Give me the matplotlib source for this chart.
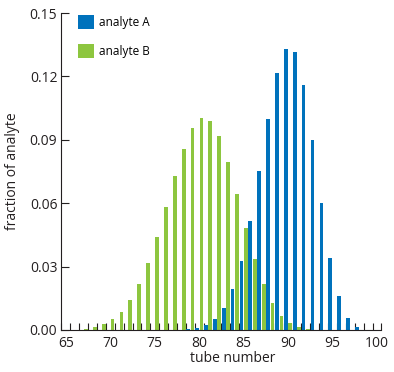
import matplotlib
matplotlib.use("Agg")
import matplotlib.pyplot as plt
from matplotlib.ticker import FixedLocator
from matplotlib.patches import Patch

plt.rcParams['font.family'] = ['Open Sans', 'DejaVu Sans']

# tube numbers and fraction of analyte
tubes_A = [79, 80, 81, 82, 83, 84, 85, 86, 87, 88, 89, 90, 91, 92, 93, 94, 95, 96, 97, 98]
frac_A = [0.0003, 0.0009, 0.0023, 0.0052, 0.0105, 0.0195, 0.0328, 0.0516, 0.0750, 0.0999,
          0.1217, 0.1330, 0.1314, 0.1160, 0.0899, 0.0601, 0.0341, 0.0161, 0.0057, 0.0016]

tubes_B = [67, 68, 69, 70, 71, 72, 73, 74, 75, 76, 77, 78, 79, 80, 81, 82, 83, 84, 85, 86,
           87, 88, 89, 90, 91, 92]
frac_B = [0.0003, 0.0014, 0.0030, 0.0052, 0.0087, 0.0142, 0.0219, 0.0318, 0.0442, 0.0584,
          0.0729, 0.0858, 0.0956, 0.1005, 0.0991, 0.0920, 0.0797, 0.0644, 0.0484, 0.0336,
          0.0219, 0.0128, 0.0067, 0.0032, 0.0016, 0.0005]

labels = ["analyte A", "analyte B"]
colors = ["#0072BC", "#8DC63F"]
xticks_major = [65, 70, 75, 80, 85, 90, 95, 100]
yticks = [0.00, 0.03, 0.06, 0.09, 0.12, 0.15]

fig = plt.figure(figsize=(3.94, 3.72), dpi=100)
ax = fig.add_axes([0.156, 0.113, 0.812, 0.852])

w = 0.42
ax.bar([t - 0.25 for t in tubes_A], frac_A, width=w, color=colors[0], linewidth=0, zorder=2)
ax.bar([t + 0.25 for t in tubes_B], frac_B, width=w, color=colors[1], linewidth=0, zorder=2)

ax.set_xlim(64.5, 100.5)
ax.set_ylim(0, 0.15)

ax.xaxis.set_major_locator(FixedLocator(xticks_major))
ax.xaxis.set_minor_locator(FixedLocator([t + 0.5 for t in range(64, 101)]))
ax.set_yticks(yticks)
ax.set_yticklabels([f"{v:.2f}" for v in yticks])

ax.tick_params(axis='x', which='major', length=0, pad=4, labelsize=10, colors='#231f20')
ax.tick_params(axis='x', which='minor', direction='in', length=5, width=0.8, color='#231f20')
ax.tick_params(axis='y', which='major', direction='in', length=5.5, width=0.8, pad=3,
               labelsize=10, colors='#231f20')

for s in ['top', 'right']:
    ax.spines[s].set_visible(False)
for s in ['left', 'bottom']:
    ax.spines[s].set_linewidth(0.8)
    ax.spines[s].set_color('#231f20')
    ax.spines[s].set_zorder(3)

ax.set_xlabel("tube number", fontsize=10, color='#231f20')
ax.set_ylabel("fraction of analyte", fontsize=10, color='#231f20')
ax.xaxis.set_label_coords(0.535, -0.065)
ax.yaxis.set_label_coords(-0.13, 0.5)

handles = [Patch(facecolor=c, edgecolor='none') for c in colors]
ax.legend(handles, labels, loc='upper left', bbox_to_anchor=(0.052, 0.995), frameon=False,
          fontsize=8.5, handlelength=1.35, handleheight=1.45, handletextpad=0.4,
          labelspacing=1.3, borderpad=0, borderaxespad=0)

fig.savefig("out.png", dpi=100)
